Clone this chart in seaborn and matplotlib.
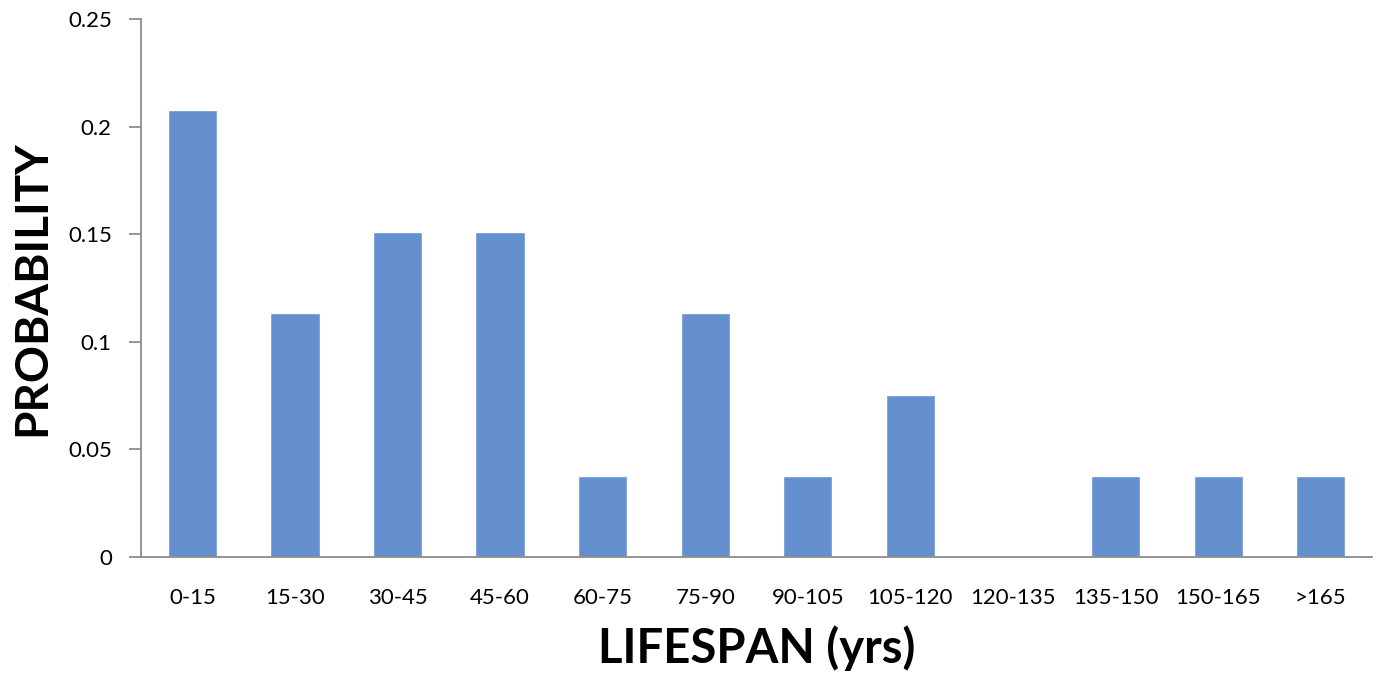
import matplotlib
matplotlib.use("Agg")
import matplotlib.pyplot as plt
import seaborn as sns
import pandas as pd

# Lifespan bins and their observed probabilities
lifespan_bins = ["0-15", "15-30", "30-45", "45-60", "60-75", "75-90",
                 "90-105", "105-120", "120-135", "135-150", "150-165", ">165"]
probability = [0.2075, 0.1132, 0.1509, 0.1509, 0.0377, 0.1132,
               0.0377, 0.0755, 0.0, 0.0377, 0.0377, 0.0377]
y_ticks = [0, 0.05, 0.1, 0.15, 0.2, 0.25]
y_tick_labels = ["0", "0.05", "0.1", "0.15", "0.2", "0.25"]

df = pd.DataFrame({"bin": lifespan_bins, "p": probability})

sns.set_theme(style="white")
plt.rcParams["font.family"] = ["Lato", "DejaVu Sans"]

fig = plt.figure(figsize=(13.8, 6.83), dpi=100)
ax = fig.add_axes([0.1022, 0.1845, 0.892, 0.7877])

sns.barplot(data=df, x="bin", y="p", color="#6590CE", saturation=1,
            width=0.48, ax=ax, order=lifespan_bins)

ax.set_xlim(-0.5, len(lifespan_bins) - 0.5)
ax.set_ylim(0, 0.25)
ax.set_yticks(y_ticks)
ax.set_yticklabels(y_tick_labels)

for side in ["top", "right"]:
    ax.spines[side].set_visible(False)
for side in ["left", "bottom"]:
    ax.spines[side].set_color("#8c8c8c")
    ax.spines[side].set_linewidth(1.3)

ax.tick_params(axis="y", which="major", left=True, length=9, width=1.3,
               color="#8c8c8c", labelsize=16, pad=12, labelcolor="black")
ax.tick_params(axis="x", which="major", bottom=False, labelsize=16,
               pad=16, labelcolor="black")

ax.set_xlabel("LIFESPAN (yrs)", fontsize=34, fontweight="bold", color="black")
ax.set_ylabel("PROBABILITY", fontsize=33, fontweight="bold", color="black")
ax.xaxis.set_label_coords(0.5, -0.127)
ax.yaxis.set_label_coords(-0.071, 0.5)
ax.xaxis.label.set_va("top")

fig.savefig("out.png", dpi=100)
